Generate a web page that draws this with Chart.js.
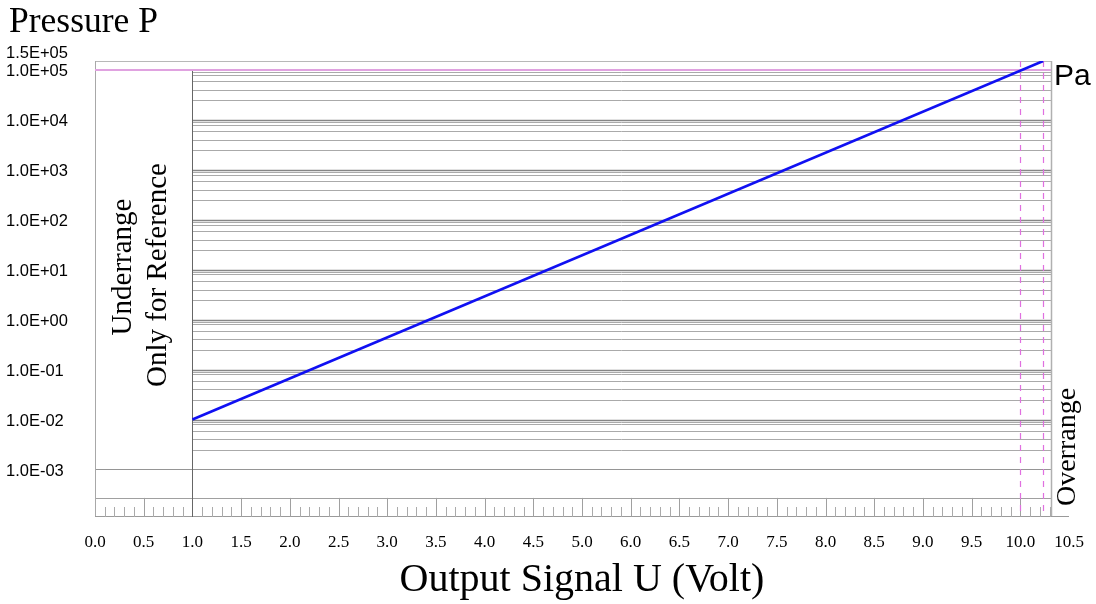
<!DOCTYPE html>
<html>
<head>
<meta charset="utf-8">
<script src="https://cdn.jsdelivr.net/npm/chart.js@4.4.1/dist/chart.umd.min.js"></script>
<style>
  html, body { margin: 0; padding: 0; background: #fff; }
  #wrap { width: 1096px; height: 604px; }
</style>
</head>
<body>
<div id="wrap"><canvas id="chart" width="1096" height="604"></canvas></div>
<script>
// Gauge characteristic: output signal U vs pressure P (log)
// ---------------------------------------------------------

// x axis: evenly spaced tick positions, labels as printed (the original skips 5.5)
const xTickLabels = ['0.0', '0.5', '1.0', '1.5', '2.0', '2.5', '3.0', '3.5', '4.0', '4.5', '5.0',
                     '6.0', '6.5', '7.0', '7.5', '8.0', '8.5', '9.0', '9.5', '10.0', '10.5'];

// y axis labelled pressures (Pa)
const yTickValues = [1e-3, 1e-2, 1e-1, 1e0, 1e1, 1e2, 1e3, 1e4, 1e5, 1.5e5];

// characteristic line, x in tick positions (2 = "1.0")
const lineX = [2, 19.47];
const lineP = [1e-2, 1.5e5];

// grid
const decadeLines = [1e-2, 1e-1, 1e0, 1e1, 1e2, 1e3, 1e4];
const minorDecades = [1e-3, 1e-2, 1e-1, 1e0, 1e1, 1e2, 1e3, 1e4];
const minorFactors = [9, 8, 6, 4, 2.5];
const limitMarksX = [19, 19.47];     // dashed magenta markers
const underrangeEndX = 2;
const frameRightX = 19.63;
const frameBottomP = 2.7e-4;
const upperLimitP = 1e5;
const lowestLineP = 1e-3;
const axisMinP = 1.12e-4;
const axisMaxP = 1.5e5;

function sci(v) {
  const e = Math.floor(Math.log10(v) + 1e-9);
  const m = v / Math.pow(10, e);
  return m.toFixed(1) + 'E' + (e < 0 ? '-' : '+') + String(Math.abs(e)).padStart(2, '0');
}

function hLine(ctx, x1, x2, y, color, width) {
  const yy = Math.round(y) + 0.5;
  ctx.beginPath();
  ctx.strokeStyle = color;
  ctx.lineWidth = width;
  ctx.moveTo(x1, yy);
  ctx.lineTo(x2, yy);
  ctx.stroke();
}

function vLine(ctx, x, y1, y2, color, width) {
  const xx = Math.round(x) + 0.5;
  ctx.beginPath();
  ctx.strokeStyle = color;
  ctx.lineWidth = width;
  ctx.moveTo(xx, y1);
  ctx.lineTo(xx, y2);
  ctx.stroke();
}

function vText(ctx, text, x, y, font) {
  ctx.save();
  ctx.translate(x, y);
  ctx.rotate(-Math.PI / 2);
  ctx.font = font;
  ctx.fillStyle = '#000';
  ctx.textAlign = 'center';
  ctx.textBaseline = 'alphabetic';
  ctx.fillText(text, 0, 0);
  ctx.restore();
}

// grid, frame and ruler strip
const gridPlugin = {
  id: 'gaugeGrid',
  beforeDatasetsDraw(chart) {
    const ctx = chart.ctx;
    const xs = chart.scales.x;
    const ys = chart.scales.y;
    const area = chart.chartArea;
    const x0 = xs.getPixelForValue(0);
    const x1 = xs.getPixelForValue(underrangeEndX);
    const xr = xs.getPixelForValue(frameRightX);
    const yTop = ys.getPixelForValue(axisMaxP);
    const yFrameBottom = ys.getPixelForValue(frameBottomP);
    const yBase = area.bottom;

    ctx.save();

    // minor pressure lines
    minorDecades.forEach(d => {
      minorFactors.forEach(f => {
        hLine(ctx, x1, xr, ys.getPixelForValue(d * f), '#aaaaaa', 1);
      });
    });
    // decade lines
    decadeLines.forEach(p => {
      hLine(ctx, x1, xr, ys.getPixelForValue(p), '#868686', 1.5);
    });
    hLine(ctx, x0, xr, ys.getPixelForValue(lowestLineP), '#959595', 1);

    // frame
    hLine(ctx, x0, xr, yTop, '#b8b8b8', 1);
    hLine(ctx, x0, xr, yFrameBottom, '#a0a0a0', 1);
    vLine(ctx, x0, yTop, yBase, '#a8a8a8', 1);
    vLine(ctx, xr, yTop, yBase, '#b0b0b0', 1.5);

    // ruler strip
    hLine(ctx, x0, xs.getPixelForValue(xTickLabels.length - 1), yBase - 1, '#9a9a9a', 1);
    for (let i = 0; i < xTickLabels.length - 1; i++) {
      if (i > 0) vLine(ctx, xs.getPixelForValue(i), yFrameBottom, yBase, '#a0a0a0', 1);
      [0.2, 0.4, 0.6, 0.8].forEach(f => {
        const v = i + f;
        if (v < frameRightX) vLine(ctx, xs.getPixelForValue(v), yBase - 10, yBase, '#aaaaaa', 1);
      });
    }

    // end of underrange
    vLine(ctx, x1, ys.getPixelForValue(upperLimitP), yBase, '#666666', 1);

    // upper limit line
    ctx.beginPath();
    ctx.strokeStyle = '#e0a2e0';
    ctx.lineWidth = 2;
    const yu = Math.round(ys.getPixelForValue(upperLimitP));
    ctx.moveTo(x0, yu);
    ctx.lineTo(xr, yu);
    ctx.stroke();

    // dashed limit markers
    ctx.setLineDash([6, 6]);
    limitMarksX.forEach(v => {
      vLine(ctx, xs.getPixelForValue(v), yTop, yBase, '#e070e0', 1.2);
    });
    ctx.setLineDash([]);

    ctx.restore();
  },
  afterDraw(chart) {
    const ctx = chart.ctx;
    const xs = chart.scales.x;
    const ys = chart.scales.y;
    const xr = xs.getPixelForValue(frameRightX);
    const ux = (xs.getPixelForValue(0) + xs.getPixelForValue(underrangeEndX)) / 2;

    ctx.save();
    ctx.fillStyle = '#000';
    ctx.textBaseline = 'alphabetic';
    ctx.textAlign = 'left';
    ctx.font = '35.5px "Liberation Serif"';
    ctx.fillText('Pressure P', 9, 32);
    ctx.font = '30px "Liberation Sans"';
    ctx.fillText('Pa', xr + 3, ys.getPixelForValue(upperLimitP) + 15);
    ctx.restore();

    vText(ctx, 'Underrange', ux - 13, 267, '29px "Liberation Serif"');
    vText(ctx, 'Only for Reference', ux + 22, 275, '29px "Liberation Serif"');
    vText(ctx, 'Overrange', xr + 24, 447, '28px "Liberation Serif"');
  }
};

const ctx = document.getElementById('chart');

new Chart(ctx, {
  type: 'line',
  data: {
    datasets: [{
      label: 'U(P)',
      data: lineX.map((x, i) => ({ x: x, y: lineP[i] })),
      borderColor: '#1010f2',
      borderWidth: 2.6,
      pointRadius: 0,
      tension: 0,
      fill: false
    }]
  },
  options: {
    responsive: false,
    animation: false,
    layout: {
      padding: { left: 6, right: 27, top: 61, bottom: 0 }
    },
    plugins: {
      legend: { display: false },
      tooltip: { enabled: false }
    },
    scales: {
      x: {
        type: 'linear',
        min: 0,
        max: xTickLabels.length - 1,
        border: { display: false },
        grid: { display: false },
        afterFit: s => { s.height = 87; },
        ticks: {
          stepSize: 1,
          autoSkip: false,
          maxRotation: 0,
          padding: 7,
          color: '#000',
          font: { family: 'Liberation Serif', size: 17 },
          callback: v => xTickLabels[v] ?? ''
        },
        title: {
          display: true,
          text: 'Output Signal U (Volt)',
          color: '#000',
          font: { family: 'Liberation Serif', size: 40 },
          padding: { top: 0, bottom: 0 }
        }
      },
      y: {
        type: 'logarithmic',
        min: axisMinP,
        max: axisMaxP,
        border: { display: false },
        grid: { display: false },
        afterFit: s => { s.width = 89; },
        afterBuildTicks: s => { s.ticks = yTickValues.map(v => ({ value: v })); },
        ticks: {
          autoSkip: false,
          crossAlign: 'far',
          color: '#000',
          font: { family: 'Liberation Sans', size: 16.5, lineHeight: '4px' },
          // labels sit a little below their lines; the top one sits above the frame
          callback: v => (v === axisMaxP ? [sci(v), '', '', '', ''] : ['', sci(v)])
        }
      }
    }
  },
  plugins: [gridPlugin]
});
</script>
</body>
</html>
